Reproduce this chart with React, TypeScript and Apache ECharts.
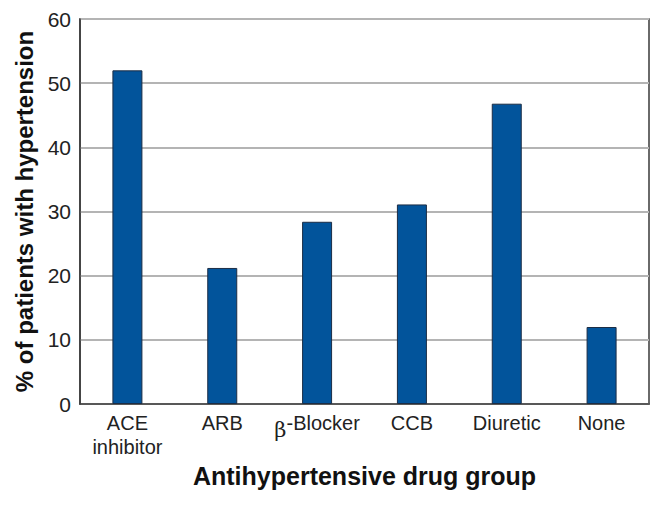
import React, { useEffect, useRef } from "react";
import * as echarts from "echarts";

const categories = ["ACE\ninhibitor", "ARB", "{b|β}-Blocker", "CCB", "Diuretic", "None"];
const values = [52.0, 21.2, 28.4, 31.1, 46.8, 12.0];
const yTicks = { min: 0, max: 60, interval: 10 };

export default function App() {
  const ref = useRef<HTMLDivElement>(null);
  useEffect(() => {
    if (!ref.current) return;
    const chart = echarts.init(ref.current, undefined, { renderer: "svg" });
    const font = "Liberation Sans, Arial, Helvetica, sans-serif";
    chart.setOption({
      animation: false,
      textStyle: { fontFamily: font },
      grid: {
        left: 80,
        top: 19,
        right: 12,
        bottom: 107,
        show: true,
        borderColor: "#3a3a3a",
        borderWidth: 1.5,
        backgroundColor: "transparent",
      },
      xAxis: {
        type: "category",
        data: categories,
        axisLine: { show: true, lineStyle: { color: "#3a3a3a", width: 1.5 } },
        axisTick: { show: false },
        axisLabel: {
          color: "#222",
          fontSize: 20,
          fontFamily: font,
          lineHeight: 24,
          margin: 7,
          interval: 0,
          rich: {
            b: { fontFamily: "DejaVu Serif, serif", fontSize: 21, color: "#222", padding: [14, 0, 0, 0] },
          },
        },
        name: "Antihypertensive drug group",
        nameLocation: "middle",
        nameGap: 58,
        nameTextStyle: { fontSize: 25, fontWeight: "bold", color: "#111", fontFamily: font },
      },
      yAxis: {
        type: "value",
        min: yTicks.min,
        max: yTicks.max,
        interval: yTicks.interval,
        axisLine: { show: true, lineStyle: { color: "#3a3a3a", width: 1.5 } },
        axisTick: { show: false },
        splitLine: { show: true, lineStyle: { color: "#b4b4b4", width: 2 } },
        axisLabel: { color: "#222", fontSize: 21, fontFamily: font, margin: 9 },
        name: "% of patients with hypertension",
        nameLocation: "middle",
        nameGap: 41,
        nameTextStyle: { fontSize: 24, fontWeight: "bold", color: "#111", fontFamily: font },
      },
      series: [
        {
          type: "bar",
          data: values,
          barWidth: 30,
          itemStyle: { color: "#02549b", borderColor: "#1c2d45", borderWidth: 1 },
        },
      ],
    });
    return () => chart.dispose();
  }, []);
  return <div ref={ref} style={{ width: 661, height: 511, position: "absolute", left: 0, top: 0 }} />;
}
